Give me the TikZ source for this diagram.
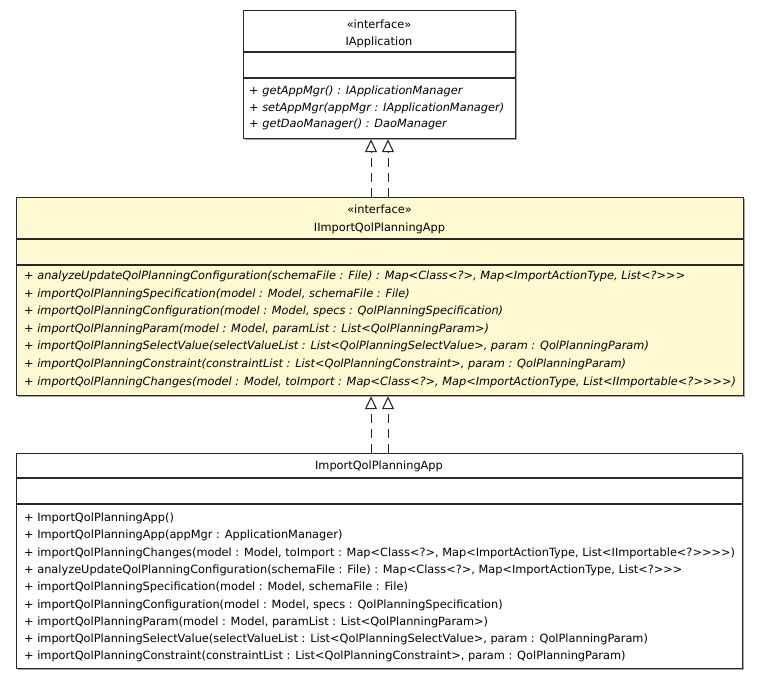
\documentclass[tikz,border=0pt]{standalone}
\usepackage{fontspec}
\setmainfont{DejaVu Sans}[Ligatures=TeXOff]
\usetikzlibrary{arrows.meta}
\definecolor{ifacefill}{RGB}{255,249,209}
\definecolor{umlline}{RGB}{40,40,40}
\tikzset{
  umlbox/.style={draw=umlline, line width=1.2pt, anchor=north west, inner sep=0pt},
  boxshadow/.style={fill=black!35},
  sepline/.style={draw=umlline, line width=1.2pt},
  txt/.style={inner sep=0pt, anchor=base west, font=\fontsize{11.35}{13}\selectfont},
  ctxt/.style={inner sep=0pt, anchor=base, font=\fontsize{11.35}{13}\selectfont},
  itxt/.style={txt, font=\fontsize{11.35}{13}\selectfont\itshape},
  realize/.style={draw=umlline, line width=0.9pt, dash pattern=on 9pt off 6pt,
    -{Triangle[open, length=13pt, width=12pt, line width=1.1pt, fill=white]}},
}
\begin{document}
\begin{tikzpicture}[x=1pt, y=-1pt]
\useasboundingbox (0,0) rectangle (759,679);

% drop shadows
\fill[boxshadow] (245,12) rectangle (517,140);
\fill[boxshadow] (18,199) rectangle (745,397);
\fill[boxshadow] (18,455) rectangle (744,670);

% IApplication
\node[umlbox, fill=white, minimum width=272pt, minimum height=128pt] (iapp) at (243,10) {};
\draw[sepline] (243,52) -- (515,52);
\draw[sepline] (243,78) -- (515,78);
\node[ctxt] (iappst) at (379,29) {«interface»};
\node[ctxt] (iappname) at (379,45.5) {IApplication};
\node[itxt] (ia1) at (249,95)  {+ getAppMgr() : IApplicationManager};
\node[itxt] (ia2) at (249,111.5) {+ setAppMgr(appMgr : IApplicationManager)};
\node[itxt] (ia3) at (249,128) {+ getDaoManager() : DaoManager};

% IImportQolPlanningApp
\node[umlbox, fill=ifacefill, minimum width=727pt, minimum height=198pt] (iimp) at (16,197) {};
\draw[sepline] (16,239) -- (743,239);
\draw[sepline] (16,265) -- (743,265);
\node[ctxt] (iimpst) at (379.5,213) {«interface»};
\node[ctxt] (iimpname) at (379.5,231) {IImportQolPlanningApp};
\node[itxt] (m1) at (24,279.5) {+ analyzeUpdateQolPlanningConfiguration(schemaFile : File) : Map<Class<?>, Map<ImportActionType, List<?>>>};
\node[itxt] (m2) at (24,297.1) {+ importQolPlanningSpecification(model : Model, schemaFile : File)};
\node[itxt] (m3) at (24,314.7) {+ importQolPlanningConfiguration(model : Model, specs : QolPlanningSpecification)};
\node[itxt] (m4) at (24,332.3) {+ importQolPlanningParam(model : Model, paramList : List<QolPlanningParam>)};
\node[itxt] (m5) at (24,349.9) {+ importQolPlanningSelectValue(selectValueList : List<QolPlanningSelectValue>, param : QolPlanningParam)};
\node[itxt] (m6) at (24,367.5) {+ importQolPlanningConstraint(constraintList : List<QolPlanningConstraint>, param : QolPlanningParam)};
\node[itxt] (m7) at (24,385.1) {+ importQolPlanningChanges(model : Model, toImport : Map<Class<?>, Map<ImportActionType, List<IImportable<?>>>>)};

% ImportQolPlanningApp
\node[umlbox, fill=white, minimum width=726pt, minimum height=215pt] (imp) at (16,453) {};
\draw[sepline] (16,478) -- (742,478);
\draw[sepline] (16,504) -- (742,504);
\node[ctxt] (impname) at (379,469.5) {ImportQolPlanningApp};
\node[txt] (c1) at (24,521.5) {+ ImportQolPlanningApp()};
\node[txt] (c2) at (24,538.8) {+ ImportQolPlanningApp(appMgr : ApplicationManager)};
\node[txt] (c3) at (24,556.1) {+ importQolPlanningChanges(model : Model, toImport : Map<Class<?>, Map<ImportActionType, List<IImportable<?>>>>)};
\node[txt] (c4) at (24,573.4) {+ analyzeUpdateQolPlanningConfiguration(schemaFile : File) : Map<Class<?>, Map<ImportActionType, List<?>>>};
\node[txt] (c5) at (24,590.7) {+ importQolPlanningSpecification(model : Model, schemaFile : File)};
\node[txt] (c6) at (24,608.0) {+ importQolPlanningConfiguration(model : Model, specs : QolPlanningSpecification)};
\node[txt] (c7) at (24,625.3) {+ importQolPlanningParam(model : Model, paramList : List<QolPlanningParam>)};
\node[txt] (c8) at (24,642.6) {+ importQolPlanningSelectValue(selectValueList : List<QolPlanningSelectValue>, param : QolPlanningParam)};
\node[txt] (c9) at (24,659.9) {+ importQolPlanningConstraint(constraintList : List<QolPlanningConstraint>, param : QolPlanningParam)};

% realization connectors
\coordinate (ra) at (371,0);
\coordinate (rb) at (388,0);
\draw[realize] (ra |- iimp.north) -- (ra |- iapp.south);
\draw[realize] (rb |- iimp.north) -- (rb |- iapp.south);
\draw[realize] (ra |- imp.north) -- (ra |- iimp.south);
\draw[realize] (rb |- imp.north) -- (rb |- iimp.south);
\end{tikzpicture}
\end{document}
